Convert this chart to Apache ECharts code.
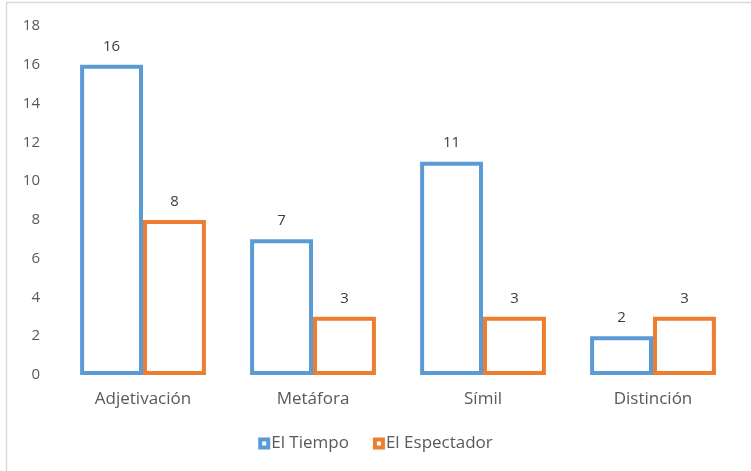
<!DOCTYPE html>
<html><head><meta charset="utf-8">
<script src="https://cdn.jsdelivr.net/npm/echarts@6/dist/echarts.min.js"></script>
<style>html,body{margin:0;padding:0;background:#fff}#c{width:751px;height:471px}</style>
</head><body><div id="c"></div>
<script>
const categories = ['Adjetivación', 'Metáfora', 'Símil', 'Distinción'];
const elTiempo = [16, 7, 11, 2];
const elEspectador = [8, 3, 3, 3];
const yTicks = { min: 0, max: 18, interval: 2 };
const seriesNames = ['El Tiempo', 'El Espectador'];
const seriesColors = ['#5B9BD5', '#ED7D31'];

const chart = echarts.init(document.getElementById('c'));
const font = '"Open Sans", "Noto Sans", sans-serif';
function ser(name, data, color) {
  return {
    name, type: 'bar', data, barGap: '0%', barCategoryGap: '26%',
    itemStyle: { color: '#ffffff', borderColor: color, borderWidth: 4 },
    label: { show: true, position: 'top', distance: 11, color: '#404040', fontSize: 15, fontFamily: font }
  };
}
const ringIcon = 'path://M0,0H12V12H0Z M4,4V8H8V4Z';
chart.setOption({
  animation: false,
  textStyle: { fontFamily: font },
  graphic: [{ type: 'rect', shape: { x: 6.5, y: 2.5, width: 800, height: 600 }, style: { fill: 'none', stroke: '#d9d9d9', lineWidth: 1.5 }, z: -1 }],
  grid: { left: 58, right: 13, top: 26, bottom: 96 },
  legend: {
    top: 430, left: 'center', itemWidth: 12, itemHeight: 12, itemGap: 24,
    textStyle: { color: '#595959', fontSize: 17, fontFamily: font, padding: [0, 0, 0, -4] },
    data: seriesNames.map((n, i) => ({ name: n, icon: ringIcon, itemStyle: { color: seriesColors[i], borderWidth: 0 } }))
  },
  xAxis: {
    type: 'category', data: categories,
    axisLine: { show: false }, axisTick: { show: false },
    axisLabel: { color: '#595959', fontSize: 17, margin: 16, fontFamily: font }
  },
  yAxis: {
    type: 'value', min: yTicks.min, max: yTicks.max, interval: yTicks.interval,
    splitLine: { show: false }, axisLine: { show: false }, axisTick: { show: false },
    axisLabel: { color: '#595959', fontSize: 15, margin: 18, fontFamily: font }
  },
  series: [ser(seriesNames[0], elTiempo, seriesColors[0]), ser(seriesNames[1], elEspectador, seriesColors[1])]
});
</script></body></html>
